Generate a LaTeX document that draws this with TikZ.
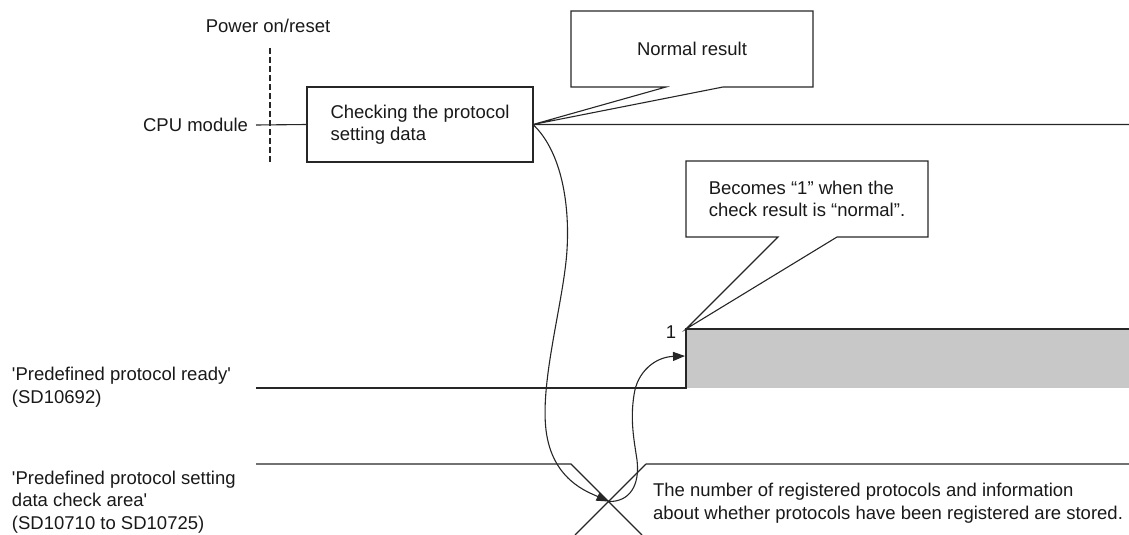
\documentclass[tikz,border=0pt]{standalone}
\usepackage{fontspec}
\setmainfont{Liberation Sans}
\usetikzlibrary{arrows.meta}
\definecolor{hilvl}{HTML}{C8C8C8}
\begin{document}
\begin{tikzpicture}[x=1pt,y=-1pt,line width=1.1pt,color=black!85,
  lbl/.style={inner sep=0pt,outer sep=0pt,align=left,text=black!90,font=\fontsize{18.5}{22.5}\selectfont},
  callbox/.style={lbl,minimum width=242pt,minimum height=76pt},
  arr/.style={-{Triangle[length=12pt,width=9pt]}}]
\useasboundingbox (0,0) rectangle (1129,535);
\node[lbl] (pwr) at (268,26){Power on/reset};\coordinate (rst0) at (270,48);\coordinate (rst1) at (270,162);
\draw[dash pattern=on 6pt off 3pt] (rst0)--(rst1);
\node[lbl,anchor=east] (cpu) at (248,125){CPU module};
\node[lbl,draw,minimum width=226pt,minimum height=75pt] (chk) at (420,124.5){Checking the protocol\\setting data};
\coordinate (cpu1) at (1129,124.5);\draw ([xshift=8pt]cpu.east)--(chk.west) (chk.east)--(cpu1);
\node[callbox] (nrm) at (692,49){Normal result};
\draw (nrm.north west)--(nrm.north east)--(nrm.south east)--([xshift=31pt]nrm.south)--(chk.east)--([xshift=-26pt]nrm.south)--(nrm.south west)--cycle;
\coordinate (rdy0) at (256,388);\coordinate (rise) at (686,388);\coordinate (up) at (686,329);\coordinate (rdy1) at (1129,329);\coordinate (tip) at (685,356);
\fill[hilvl] (up) rectangle (1129,388);\draw (rdy0)--(rise)--(up)--(rdy1);
\node[lbl] (one) at (671,332){1};
\node[callbox] (bcm) at (807,199){Becomes “1” when the\\check result is “normal”.};
\draw (bcm.north west)--(bcm.north east)--(bcm.south east)--([xshift=30pt]bcm.south)--(up)--([xshift=-29pt]bcm.south)--(bcm.south west)--cycle;
\node[lbl,anchor=west] (rdylbl) at (12,387){\textquotesingle Predefined protocol ready\textquotesingle\\(SD10692)};
\coordinate (area0) at (256,464);\coordinate (xa) at (571,464);\coordinate (xb) at (646,464);\coordinate (xc) at (642,535);\coordinate (xd) at (575,535);\coordinate (area1) at (1129,464);\coordinate (xing) at (608.5,501.5);
\draw (area0)--(xa)--(xc) (xb)--(xd) (xb)--(area1);
\node[lbl,anchor=west] (arealbl) at (12,502){\textquotesingle Predefined protocol setting\\data check area\textquotesingle\\(SD10710 to SD10725)};
\node[lbl,anchor=west] (note) at (653,503){The number of registered protocols and information\\about whether protocols have been registered are stored.};
\draw[arr] (chk.east) .. controls (560,150) and (570,200) .. (567,250) .. controls (564,300) and (540,380) .. (546,430) .. controls (552,480) and (588,492) .. (xing);
\draw[arr] (xing) .. controls (630,502) and (640,485) .. (637,460) .. controls (634,440) and (630,420) .. (634,395) .. controls (637,372) and (655,357) .. (tip);
\end{tikzpicture}
\end{document}
